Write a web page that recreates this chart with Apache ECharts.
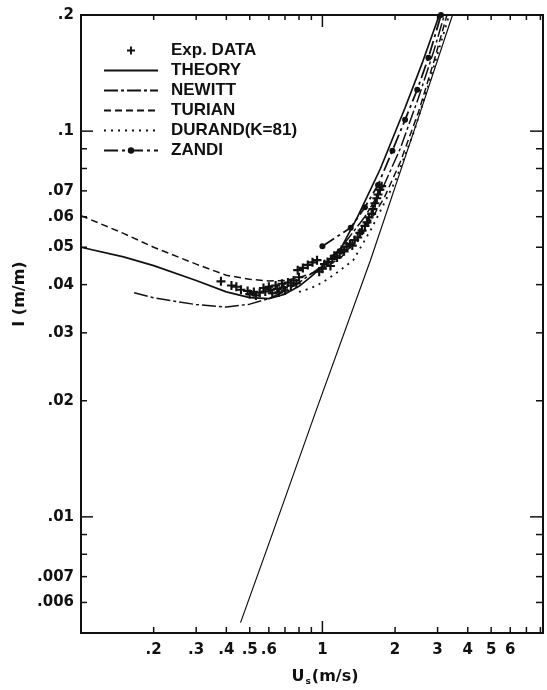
<!DOCTYPE html>
<html>
<head>
<meta charset="utf-8">
<script src="https://cdn.jsdelivr.net/npm/echarts@6/dist/echarts.min.js"></script>
<style>html,body{margin:0;padding:0;background:#fff}#c{width:547px;height:690px}</style>
</head>
<body>
<div id="c"></div>
<script>
// ---------- data ----------
const X_MIN = 0.1, X_MAX = 8.2, Y_MIN = 0.005, Y_MAX = 0.2;
const xTickValues = [0.2,0.3,0.4,0.5,0.6,0.7,0.8,0.9,1,2,3,4,5,6,7,8];
const xLabelValues = [0.2,0.3,0.4,0.5,0.6,1,2,3,4,5,6];
const xLabels = ['.2','.3','.4','.5','.6','1','2','3','4','5','6'];
const xMajor = [1];
const yTickValues = [0.006,0.007,0.008,0.009,0.01,0.02,0.03,0.04,0.05,0.06,0.07,0.08,0.09,0.1,0.2];
const yLabelValues = [0.006,0.007,0.01,0.02,0.03,0.04,0.05,0.06,0.07,0.1,0.2];
const yLabels = ['.006','.007','.01','.02','.03','.04','.05','.06','.07','.1','.2'];
const yMajor = [0.01,0.1];

const legendNames = ['Exp. DATA','THEORY','NEWITT','TURIAN','DURAND(K=81)','ZANDI'];

const expData = [
  [0.38,0.0408],[0.42,0.0398],[0.44,0.0395],[0.46,0.0388],[0.49,0.0385],[0.50,0.0378],[0.52,0.0383],
  [0.53,0.0375],[0.55,0.0381],[0.57,0.0392],[0.58,0.0384],[0.60,0.0395],[0.61,0.0388],[0.62,0.0380],
  [0.64,0.0398],[0.65,0.0390],[0.66,0.0382],[0.68,0.0402],[0.69,0.0393],[0.70,0.0386],[0.72,0.0405],
  [0.74,0.0398],[0.76,0.0410],[0.78,0.0403],[0.80,0.0418],[0.79,0.0436],[0.83,0.0442],[0.87,0.0450],
  [0.91,0.0457],[0.95,0.0463],[0.97,0.0432],[1.00,0.0440],[1.02,0.0452],[1.05,0.0458],[1.08,0.0447],
  [1.10,0.0466],[1.12,0.0475],[1.15,0.0470],[1.18,0.0484],[1.20,0.0492],[1.23,0.0488],[1.26,0.0502],
  [1.30,0.0510],[1.33,0.0505],[1.36,0.0522],[1.40,0.0530],[1.43,0.0545],[1.46,0.0552],[1.50,0.0568],
  [1.53,0.0580],[1.56,0.0598],[1.60,0.0610],[1.62,0.0628],[1.65,0.0650],[1.68,0.0670],[1.70,0.0685],
  [1.73,0.0705],[1.76,0.0720]
];
const theory = [[0.1,0.050],[0.15,0.0472],[0.2,0.0448],[0.3,0.0410],[0.4,0.0383],[0.5,0.0370],[0.6,0.0368],
  [0.7,0.0378],[0.8,0.0396],[0.9,0.0420],[1.0,0.0446],[1.19,0.0495],[1.4,0.0600],[1.74,0.0800],
  [2.2,0.115],[2.6,0.151],[3.05,0.2]];
const newitt = [[0.166,0.0381],[0.2,0.0370],[0.26,0.0360],[0.3,0.0355],[0.4,0.0350],[0.5,0.0356],[0.6,0.0368],
  [0.7,0.0385],[0.8,0.0405],[1.0,0.0448],[1.2,0.0500],[1.5,0.0600],[1.8,0.0725],[2.1,0.0900],
  [2.5,0.1220],[2.9,0.1620],[3.2,0.2]];
const turian = [[0.1,0.0604],[0.15,0.0543],[0.2,0.0500],[0.3,0.0452],[0.4,0.0423],[0.5,0.0413],[0.6,0.0409],
  [0.7,0.0410],[0.8,0.0417],[1.0,0.0438],[1.2,0.0472],[1.5,0.0555],[1.8,0.0670],[2.1,0.0830],
  [2.5,0.1120],[2.9,0.1520],[3.28,0.2]];
const durand = [[0.8,0.0383],[0.9,0.0392],[1.0,0.0405],[1.15,0.0430],[1.34,0.0462],[1.6,0.0560],[2.0,0.0740],
  [2.4,0.1000],[2.8,0.1370],[3.35,0.2]];
const zandi = [[1.0,0.0503],[1.31,0.0562],[1.5,0.0635],[1.7,0.0725],[1.95,0.0890],[2.2,0.1070],
  [2.47,0.1280],[2.75,0.1550],[3.1,0.2]];
const waterLine = [[0.458,0.00532],[0.61,0.00877],[0.936,0.01866],[1.58,0.0462],[2.47,0.106],[3.46,0.2]];

// ---------- chart ----------
const INK = '#111';
const FONT = '"Liberation Sans", Arial, sans-serif';
const TFONT = '"DejaVu Sans", sans-serif';
const chart = echarts.init(document.getElementById('c'), null, {renderer: 'canvas'});
const PLUS = 'path://M3.8,0h2.4v3.8h3.8v2.4h-3.8v3.8h-2.4v-3.8h-3.8v-2.4h3.8z';
const HIDDEN = {color:'rgba(0,0,0,0)', borderColor:'rgba(0,0,0,0)', borderWidth:0, opacity:0};

function xTickRender(params, api) {
  const v = api.value(0);
  const b = api.coord([v, Y_MIN]);
  const t = api.coord([v, Y_MAX]);
  const major = xMajor.indexOf(v) >= 0;
  const ch = [
    {type:'line', shape:{x1:b[0], y1:b[1], x2:b[0], y2:b[1]-(major?12:6)}, style:{stroke:INK, lineWidth:1.5}},
    {type:'line', shape:{x1:t[0], y1:t[1], x2:t[0], y2:t[1]+(major?12:5)}, style:{stroke:INK, lineWidth:1.5}}
  ];
  const li = xLabelValues.indexOf(v);
  if (li >= 0) ch.push({type:'text', x:b[0], y:b[1]+17, style:{text:xLabels[li], fill:INK, font:'bold 15px ' + TFONT, align:'center', verticalAlign:'middle'}});
  return {type:'group', children:ch};
}
function yTickRender(params, api) {
  const v = api.value(1);
  const l = api.coord([X_MIN, v]);
  const r = api.coord([X_MAX, v]);
  const major = yMajor.indexOf(v) >= 0;
  const ch = [
    {type:'line', shape:{x1:l[0], y1:l[1], x2:l[0]+(major?12:6), y2:l[1]}, style:{stroke:INK, lineWidth:1.5}},
    {type:'line', shape:{x1:r[0], y1:r[1], x2:r[0]-(major?13:7), y2:r[1]}, style:{stroke:INK, lineWidth:1.5}}
  ];
  const li = yLabelValues.indexOf(v);
  if (li >= 0) ch.push({type:'text', x:l[0]-7, y:l[1], style:{text:yLabels[li], fill:INK, font:'bold 15px ' + TFONT, align:'right', verticalAlign:'middle'}});
  return {type:'group', children:ch};
}

function lineSeries(name, data, type, width, extra) {
  return Object.assign({
    name, type:'line', data, symbol:'none', smooth:false, clip:true,
    lineStyle:{color:INK, width, type}, itemStyle:{color:INK}, z:3, silent:true
  }, extra || {});
}

chart.setOption({
  animation:false,
  backgroundColor:'#fff',
  grid:{left:81, right:4, top:15, bottom:57, show:true, borderColor:INK, borderWidth:2, backgroundColor:'transparent'},
  xAxis:{type:'log', logBase:10, min:X_MIN, max:X_MAX, axisLine:{show:false}, axisTick:{show:false}, axisLabel:{show:false}, splitLine:{show:false}},
  yAxis:{type:'log', logBase:10, min:Y_MIN, max:Y_MAX, axisLine:{show:false}, axisTick:{show:false}, axisLabel:{show:false}, splitLine:{show:false}},
  legend:{
    data: legendNames.map(n => (n === 'Exp. DATA' || n === 'ZANDI') ? {name:n} : {name:n, itemStyle:HIDDEN}),
    orient:'vertical', left:103, top:42, padding:0, itemWidth:54, itemHeight:8, itemGap:3,
    symbolKeepAspect:true,
    textStyle:{color:INK, fontFamily:FONT, fontWeight:'bold', fontSize:17, padding:[0,0,0,8]},
    selectedMode:false
  },
  graphic:[
    {type:'text', x:20, y:294, rotation:Math.PI/2, style:{text:'I (m/m)', fill:INK, font:'bold 16px ' + TFONT, align:'center', verticalAlign:'middle'}},
    {type:'text', x:325, y:677, style:{text:'{u|U}{s|s}{u|(m/s)}', align:'center', verticalAlign:'middle',
      rich:{u:{fontSize:16, fontWeight:'bold', fontFamily:TFONT, fill:INK, lineHeight:18}, s:{fontSize:9, fontWeight:'bold', fontFamily:TFONT, fill:INK, verticalAlign:'bottom', padding:[8,1,0,1]}}}}
  ],
  series:[
    {name:'Exp. DATA', type:'scatter', data:expData, symbol:PLUS, symbolSize:9, itemStyle:{color:INK, opacity:1}, z:4, silent:true},
    lineSeries('THEORY', theory, 'solid', 1.7),
    lineSeries('NEWITT', newitt, [14,3,3,3], 1.5),
    lineSeries('TURIAN', turian, [7,4], 1.5),
    lineSeries('DURAND(K=81)', durand, [2,5], 1.8),
    lineSeries('ZANDI', zandi, [14,4,3,4], 1.8, {symbol:'circle', symbolSize:6, showSymbol:true}),
    lineSeries('water', waterLine, 'solid', 1.2),
    {type:'custom', name:'xticks', data:xTickValues.map(v=>[v, Y_MIN]), renderItem:xTickRender, clip:false, silent:true, z:5},
    {type:'custom', name:'yticks', data:yTickValues.map(v=>[X_MIN, v]), renderItem:yTickRender, clip:false, silent:true, z:5}
  ]
});
</script>
</body>
</html>
